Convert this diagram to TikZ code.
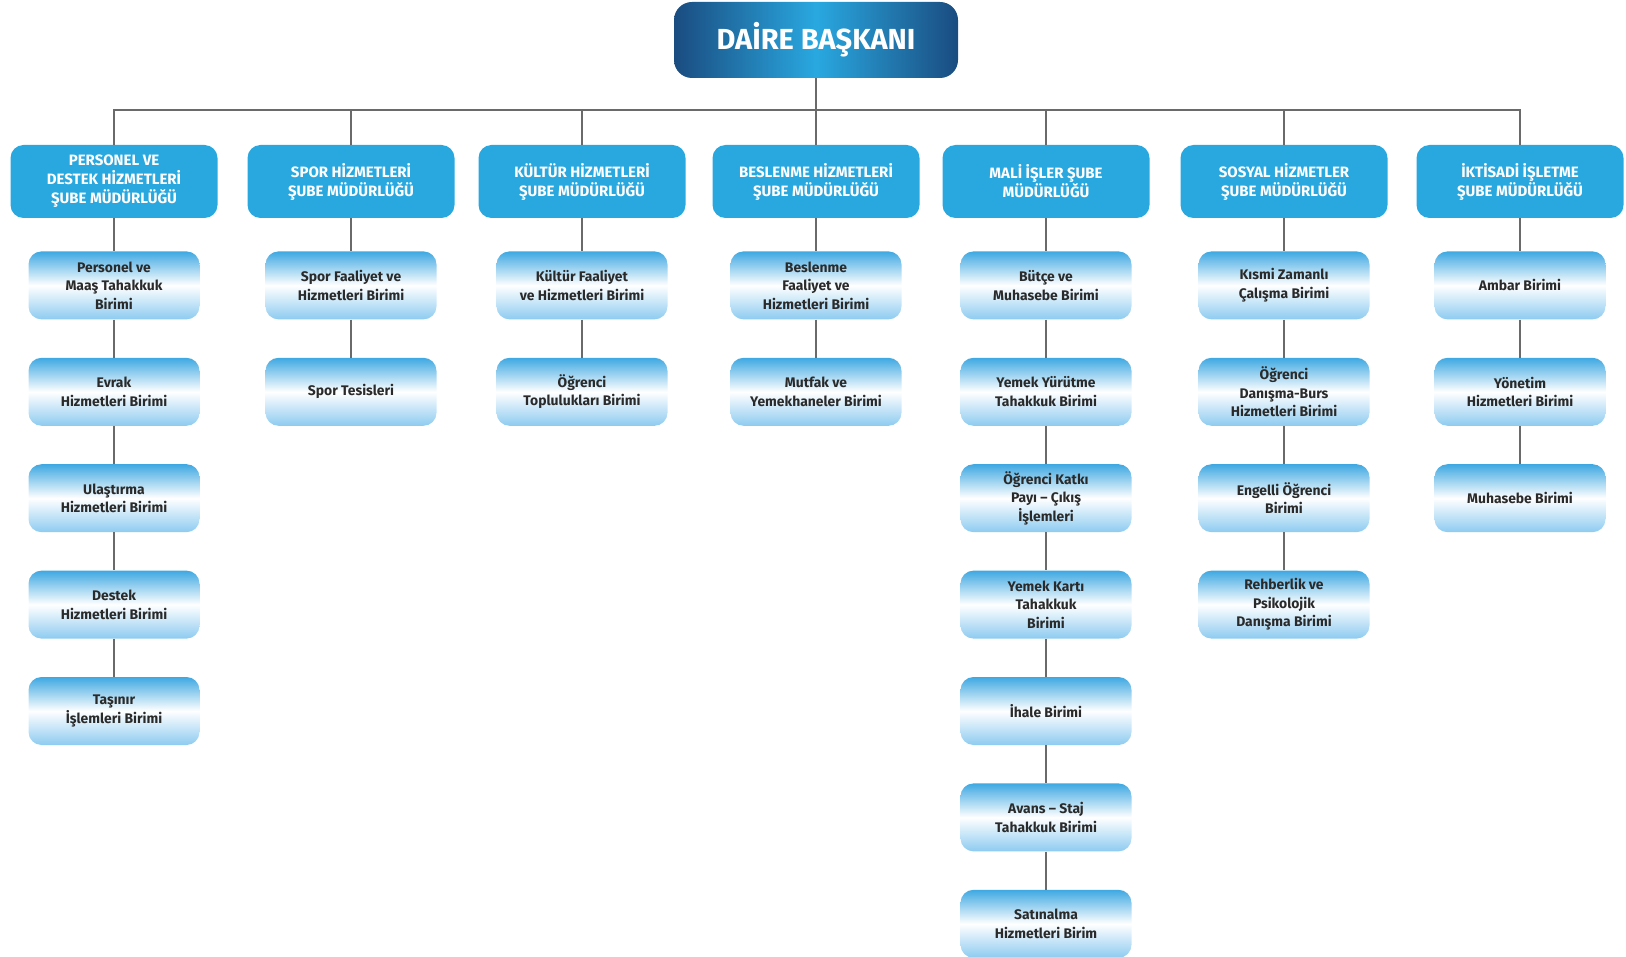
\documentclass[tikz,border=0pt]{standalone}
\usepackage{fontspec}
\setmainfont{Fira Sans}
\usetikzlibrary{positioning}
\definecolor{bdark}{HTML}{1A4C80}
\definecolor{bmid}{HTML}{29A8E0}
\definecolor{btop}{HTML}{3FA8E2}
\definecolor{bbot}{HTML}{8DCBF0}
\definecolor{lineg}{HTML}{6A6A6A}
\definecolor{txt}{HTML}{2A2A2A}
\tikzset{
  headbox/.style={rounded corners=18pt, left color=bdark, right color=bdark, middle color=bmid,
    minimum width=284pt, minimum height=76pt, text=white, font=\bfseries\fontsize{29}{32}\selectfont},
  subebox/.style={rounded corners=13pt, fill=bmid, minimum width=207pt, minimum height=73pt,
    align=center, text=white, font=\bfseries\fontsize{15}{19}\selectfont},
  birimbox/.style={rounded corners=13pt, top color=btop, bottom color=bbot, middle color=white,
    minimum width=171pt, minimum height=68pt, align=center, text=txt,
    font=\bfseries\fontsize{13.9}{18.5}\selectfont},
  conn/.style={draw=lineg, line width=1.3pt}
}
\begin{document}
\begin{tikzpicture}[x=1pt,y=-1pt]
  \useasboundingbox (0,0) rectangle (1626,957);
  \node[headbox] (baskan) at (816,40) {DAİRE BAŞKANI};
  \coordinate (bus) at (816,110);
  % sube mudurlukleri
  \node[subebox] (s1) at (114,181.5) {PERSONEL VE\\DESTEK HİZMETLERİ\\ŞUBE MÜDÜRLÜĞÜ};
  \node[subebox] (s2) at (351,181.5) {SPOR HİZMETLERİ\\ŞUBE MÜDÜRLÜĞÜ};
  \node[subebox] (s3) at (582,181.5) {KÜLTÜR HİZMETLERİ\\ŞUBE MÜDÜRLÜĞÜ};
  \node[subebox] (s4) at (816,181.5) {BESLENME HİZMETLERİ\\ŞUBE MÜDÜRLÜĞÜ};
  \node[subebox] (s5) at (1046,181.5) {MALİ İŞLER ŞUBE\\MÜDÜRLÜĞÜ};
  \node[subebox] (s6) at (1284,181.5) {SOSYAL HİZMETLER\\ŞUBE MÜDÜRLÜĞÜ};
  \node[subebox] (s7) at (1520,181.5) {İKTİSADİ İŞLETME\\ŞUBE MÜDÜRLÜĞÜ};
  % birimler
  \node[birimbox, below=33pt of s1] (s1a) {Personel ve\\Maaş Tahakkuk\\Birimi};
  \node[birimbox, below=38pt of s1a] (s1b) {Evrak\\Hizmetleri Birimi};
  \node[birimbox, below=38pt of s1b] (s1c) {Ulaştırma\\Hizmetleri Birimi};
  \node[birimbox, below=38pt of s1c] (s1d) {Destek\\Hizmetleri Birimi};
  \node[birimbox, below=38pt of s1d] (s1e) {Taşınır\\İşlemleri Birimi};

  \node[birimbox, below=33pt of s2] (s2a) {Spor Faaliyet ve\\Hizmetleri Birimi};
  \node[birimbox, below=38pt of s2a] (s2b) {Spor Tesisleri};

  \node[birimbox, below=33pt of s3] (s3a) {Kültür Faaliyet\\ve Hizmetleri Birimi};
  \node[birimbox, below=38pt of s3a] (s3b) {Öğrenci\\Toplulukları Birimi};

  \node[birimbox, below=33pt of s4] (s4a) {Beslenme\\Faaliyet ve\\Hizmetleri Birimi};
  \node[birimbox, below=38pt of s4a] (s4b) {Mutfak ve\\Yemekhaneler Birimi};

  \node[birimbox, below=33pt of s5] (s5a) {Bütçe ve\\Muhasebe Birimi};
  \node[birimbox, below=38pt of s5a] (s5b) {Yemek Yürütme\\Tahakkuk Birimi};
  \node[birimbox, below=38pt of s5b] (s5c) {Öğrenci Katkı\\Payı – Çıkış\\İşlemleri};
  \node[birimbox, below=38pt of s5c] (s5d) {Yemek Kartı\\Tahakkuk\\Birimi};
  \node[birimbox, below=38pt of s5d] (s5e) {İhale Birimi};
  \node[birimbox, below=38pt of s5e] (s5f) {Avans – Staj\\Tahakkuk Birimi};
  \node[birimbox, below=38pt of s5f] (s5g) {Satınalma\\Hizmetleri Birim};

  \node[birimbox, below=33pt of s6] (s6a) {Kısmi Zamanlı\\Çalışma Birimi};
  \node[birimbox, below=38pt of s6a] (s6b) {Öğrenci\\Danışma-Burs\\Hizmetleri Birimi};
  \node[birimbox, below=38pt of s6b] (s6c) {Engelli Öğrenci\\Birimi};
  \node[birimbox, below=38pt of s6c] (s6d) {Rehberlik ve\\Psikolojik\\Danışma Birimi};

  \node[birimbox, below=33pt of s7] (s7a) {Ambar Birimi};
  \node[birimbox, below=38pt of s7a] (s7b) {Yönetim\\Hizmetleri Birimi};
  \node[birimbox, below=38pt of s7b] (s7c) {Muhasebe Birimi};
  % baglantilar
  \draw[conn] (baskan) -- (bus);
  \draw[conn] (s1) -- (s1 |- bus) -- (s7 |- bus) -- (s7);
  \draw[conn] (s2) -- (s2 |- bus);
  \draw[conn] (s3) -- (s3 |- bus);
  \draw[conn] (s4) -- (s4 |- bus);
  \draw[conn] (s5) -- (s5 |- bus);
  \draw[conn] (s6) -- (s6 |- bus);
  \draw[conn] (s1) -- (s1a) -- (s1b) -- (s1c) -- (s1d) -- (s1e);
  \draw[conn] (s2) -- (s2a) -- (s2b);
  \draw[conn] (s3) -- (s3a) -- (s3b);
  \draw[conn] (s4) -- (s4a) -- (s4b);
  \draw[conn] (s5) -- (s5a) -- (s5b) -- (s5c) -- (s5d) -- (s5e) -- (s5f) -- (s5g);
  \draw[conn] (s6) -- (s6a) -- (s6b) -- (s6c) -- (s6d);
  \draw[conn] (s7) -- (s7a) -- (s7b) -- (s7c);
\end{tikzpicture}
\end{document}
